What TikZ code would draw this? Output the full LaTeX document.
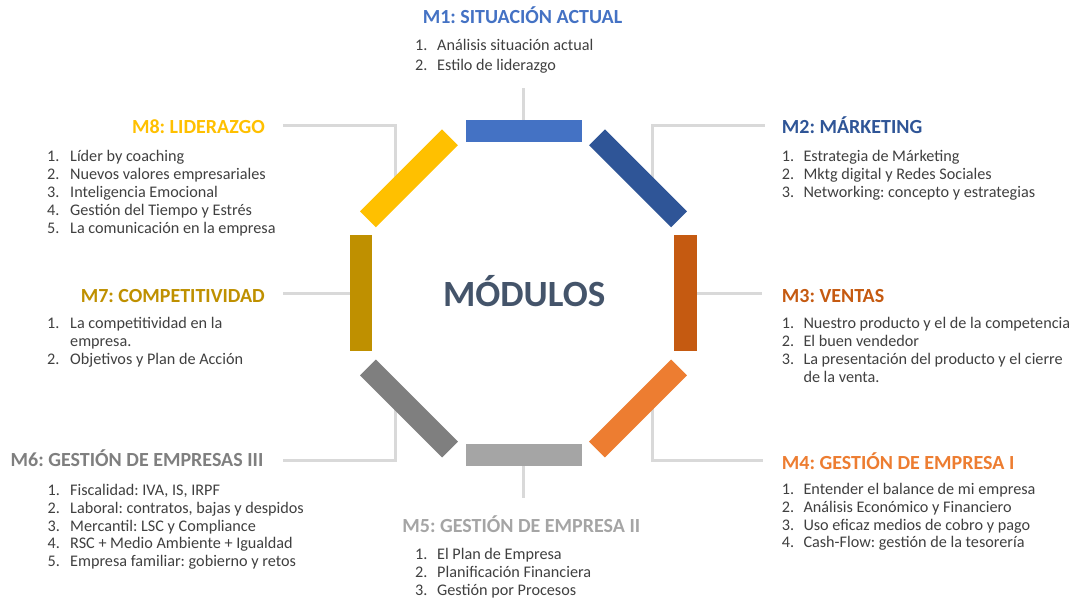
\documentclass[tikz,border=0pt]{standalone}
\usepackage{fontspec}
\setmainfont{Carlito}
\usetikzlibrary{calc}
\frenchspacing
\definecolor{cMa}{HTML}{4472C4}
\definecolor{cMb}{HTML}{2F5597}
\definecolor{cMc}{HTML}{C55A11}
\definecolor{cMd}{HTML}{ED7D31}
\definecolor{cMe}{HTML}{A5A5A5}
\definecolor{cMf}{HTML}{7F7F7F}
\definecolor{cMg}{HTML}{BF9000}
\definecolor{cMh}{HTML}{FFC000}
\definecolor{centerc}{HTML}{44546A}
\definecolor{lineg}{HTML}{D9D9D9}
\definecolor{itemc}{HTML}{404040}
\newcommand\mitem[6]{%
  \node[inum] (#1n) at (#2,#4) {#5};
  \node[inum] (#1t) at (#3,#4) {#6};}
\begin{document}
\begin{tikzpicture}[x=1pt,y=-1pt,
  conn/.style={draw=lineg, line width=3pt},
  bar/.style={rectangle, minimum width=116pt, minimum height=22.5pt, inner sep=0pt, draw=none},
  ttl/.style={inner sep=0pt, font=\fontsize{20}{22}\selectfont\bfseries\frenchspacing},
  inum/.style={inner sep=0pt, anchor=base west, text=itemc, font=\fontsize{16.2}{18}\selectfont\frenchspacing},
]
\fill[white] (0,0) rectangle (1079,599);
\useasboundingbox (0,0) rectangle (1079,599);

% free ends of connectors
\coordinate (c1) at (523.5,88);
\coordinate (c2a) at (652,195);
\coordinate (c2) at (765,125.5);
\coordinate (c3) at (761.7,293.3);
\coordinate (c4a) at (652,392);
\coordinate (c4) at (763,460);
\coordinate (c5) at (523.5,498);
\coordinate (c6a) at (395,392);
\coordinate (c6) at (283,460);
\coordinate (c7) at (283,293.3);
\coordinate (c8a) at (395,195);
\coordinate (c8) at (283,125.5);

% bar positions
\coordinate (p1) at (523.5,130.8);
\coordinate (p2) at (638,178.3);
\coordinate (p3) at (685.3,293.3);
\coordinate (p4) at (638,408.5);
\coordinate (p5) at (523.5,455);
\coordinate (p6) at (409,408.5);
\coordinate (p7) at (361,293.3);
\coordinate (p8) at (409,178.3);

% connectors (drawn first, bars cover their inner ends)
\draw[conn] (p1) -- (c1);
\draw[conn] (c2a) |- (c2);
\draw[conn] (p3) -- (c3);
\draw[conn] (c4a) |- (c4);
\draw[conn] (p5) -- (c5);
\draw[conn] (c6a) |- (c6);
\draw[conn] (p7) -- (c7);
\draw[conn] (c8a) |- (c8);

% bars
\node[bar, fill=cMa] (b1) at (p1) {};
\node[bar, fill=cMb, rotate=-45] (b2) at (p2) {};
\node[bar, fill=cMc, rotate=90] (b3) at (p3) {};
\node[bar, fill=cMd, rotate=45] (b4) at (p4) {};
\node[bar, fill=cMe] (b5) at (p5) {};
\node[bar, fill=cMf, rotate=-45] (b6) at (p6) {};
\node[bar, fill=cMg, rotate=90] (b7) at (p7) {};
\node[bar, fill=cMh, rotate=45] (b8) at (p8) {};

% centre
\node[inner sep=0pt, anchor=base, text=centerc, font=\fontsize{37}{40}\selectfont\bfseries] (mod) at (524.2,306.5) {MÓDULOS};

% titles
\node[ttl, anchor=base, text=cMa] (t1) at (522.5,23.5) {M1: SITUACIÓN ACTUAL};
\node[ttl, anchor=base west, text=cMb] (t2) at (781.7,134) {M2: MÁRKETING};
\node[ttl, anchor=base west, text=cMc] (t3) at (781.7,302) {M3: VENTAS};
\node[ttl, anchor=base west, text=cMd] (t4) at (781.7,469) {M4: GESTIÓN DE EMPRESA I};
\node[ttl, anchor=base, text=cMe] (t5) at (521.3,532.5) {M5: GESTIÓN DE EMPRESA II};
\node[ttl, anchor=base east, text=cMf] (t6) at (263.5,466) {M6: GESTIÓN DE EMPRESAS III};
\node[ttl, anchor=base east, text=cMg] (t7) at (265,302) {M7: COMPETITIVIDAD};
\node[ttl, anchor=base east, text=cMh] (t8) at (265,134) {M8: LIDERAZGO};

% M1 items
\mitem{a1}{415}{437}{50.5}{1.}{Análisis situación actual}
\mitem{a2}{415}{437}{71}{2.}{Estilo de liderazgo}
% M2 items
\mitem{b1i}{781.7}{803.3}{161.7}{1.}{Estrategia de Márketing}
\mitem{b2i}{781.7}{803.3}{179.7}{2.}{Mktg digital y Redes Sociales}
\mitem{b3i}{781.7}{803.3}{197.5}{3.}{Networking: concepto y estrategias}
% M3 items
\mitem{c1i}{781.7}{803.3}{328.3}{1.}{Nuestro producto y el de la competencia}
\mitem{c2i}{781.7}{803.3}{346.5}{2.}{El buen vendedor}
\mitem{c3i}{781.7}{803.3}{364.8}{3.}{La presentación del producto y el cierre}
\node[inum] (c3j) at (803.3,382.8) {de la venta.};
% M4 items
\mitem{d1i}{781.7}{803.3}{494.3}{1.}{Entender el balance de mi empresa}
\mitem{d2i}{781.7}{803.3}{512.3}{2.}{Análisis Económico y Financiero}
\mitem{d3i}{781.7}{803.3}{530}{3.}{Uso eficaz medios de cobro y pago}
\mitem{d4i}{781.7}{803.3}{547.8}{4.}{Cash-Flow: gestión de la tesorería}
% M5 items
\mitem{e1i}{415}{437}{559.3}{1.}{El Plan de Empresa}
\mitem{e2i}{415}{437}{577.5}{2.}{Planificación Financiera}
\mitem{e3i}{415}{437}{595.3}{3.}{Gestión por Procesos}
% M6 items
\mitem{f1i}{47.5}{70}{495.7}{1.}{Fiscalidad: IVA, IS, IRPF}
\mitem{f2i}{47.5}{70}{513.5}{2.}{Laboral: contratos, bajas y despidos}
\mitem{f3i}{47.5}{70}{531}{3.}{Mercantil: LSC y Compliance}
\mitem{f4i}{47.5}{70}{548.5}{4.}{RSC + Medio Ambiente + Igualdad}
\mitem{f5i}{47.5}{70}{566}{5.}{Empresa familiar: gobierno y retos}
% M7 items
\mitem{g1i}{47}{70}{328.3}{1.}{La competitividad en la}
\node[inum] (g1j) at (70,346) {empresa.};
\mitem{g2i}{47}{70}{364}{2.}{Objetivos y Plan de Acción}
% M8 items
\mitem{h1i}{47}{70}{161.7}{1.}{Líder by coaching}
\mitem{h2i}{47}{70}{179.7}{2.}{Nuevos valores empresariales}
\mitem{h3i}{47}{70}{197}{3.}{Inteligencia Emocional}
\mitem{h4i}{47}{70}{215}{4.}{Gestión del Tiempo y Estrés}
\mitem{h5i}{47}{70}{233}{5.}{La comunicación en la empresa}
\end{tikzpicture}
\end{document}
